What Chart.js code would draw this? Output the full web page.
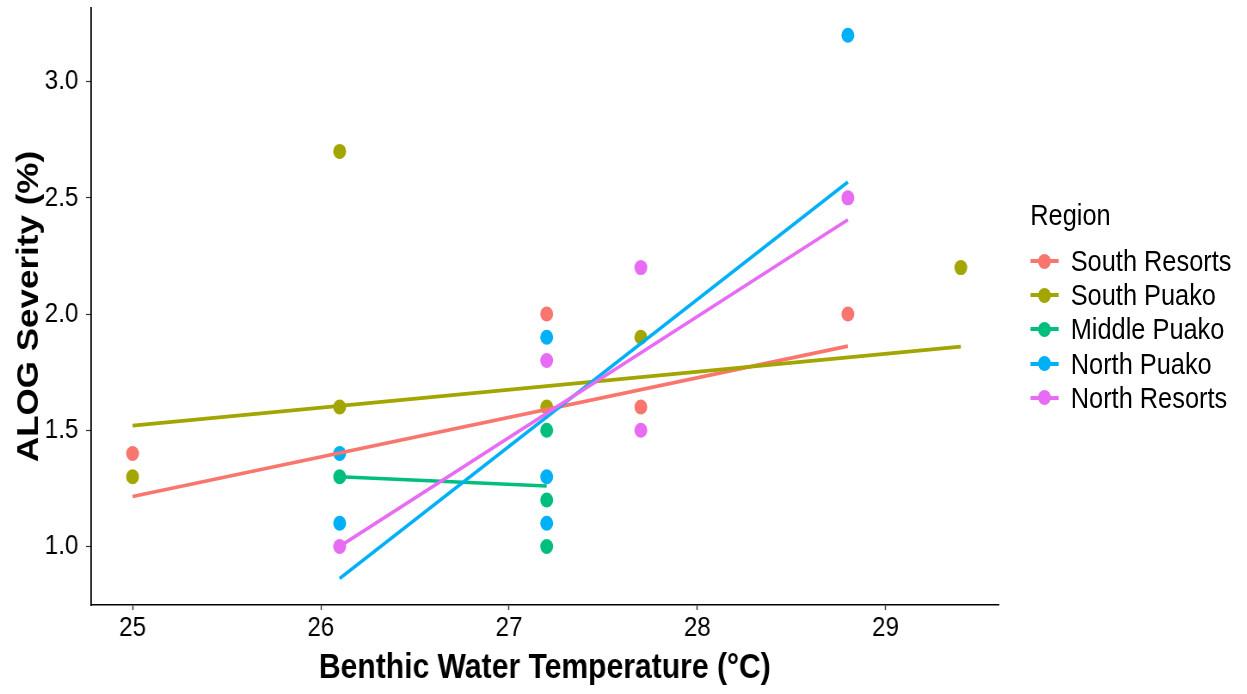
<!DOCTYPE html>
<html>
<head>
<meta charset="utf-8">
<script src="https://cdn.jsdelivr.net/npm/chart.js@4.4.1/dist/chart.umd.min.js"></script>
<style>
    html, body { margin: 0; padding: 0; background: #fff; overflow: hidden; }
    /* the original figure is squeezed sideways, so draw wide and compress */
    #wrap { position: relative; width: 1450px; height: 694px; transform: scaleX(0.86); transform-origin: 0 0; }
    #legend { position: absolute; left: 0; top: 0; font-family: "Liberation Sans", Arial, sans-serif; color: #000; }
    #legend div { position: absolute; white-space: nowrap; line-height: 34px; height: 34px; }
    .ln { position: absolute; height: 4px; }
    .pt { position: absolute; width: 15px; height: 15px; border-radius: 50%; }
</style>
</head>
<body>
<div id="wrap">
    <canvas id="chart" width="1450" height="694"></canvas>
    <div id="legend"></div>
</div>
<script>
const regions = ["South Resorts", "South Puako", "Middle Puako", "North Puako", "North Resorts"];
const colors  = ["#F8766D", "#A3A500", "#00BF7D", "#00B0F6", "#E76BF3"];

// observed points, per region
const southResortsX = [25.0, 27.2, 27.7, 28.8];
const southResortsY = [1.4, 2.0, 1.6, 2.0];
const southPuakoX   = [25.0, 26.1, 26.1, 27.2, 27.7, 29.4];
const southPuakoY   = [1.3, 2.7, 1.6, 1.6, 1.9, 2.2];
const middlePuakoX  = [26.1, 27.2, 27.2, 27.2];
const middlePuakoY  = [1.3, 1.5, 1.2, 1.0];
const northPuakoX   = [26.1, 26.1, 27.2, 27.2, 27.2, 28.8];
const northPuakoY   = [1.4, 1.1, 1.9, 1.3, 1.1, 3.2];
const northResortsX = [26.1, 27.2, 27.7, 27.7, 28.8];
const northResortsY = [1.0, 1.8, 2.2, 1.5, 2.5];

// fitted line end points
const fitX = [[25.0, 28.8], [25.0, 29.4], [26.1, 27.2], [26.1, 28.8], [26.1, 28.8]];
const fitY = [[1.215, 1.862], [1.52, 1.86], [1.30, 1.26], [0.862, 2.568], [1.0, 2.406]];

const xTicks = [25, 26, 27, 28, 29];
const yTicks = [1.0, 1.5, 2.0, 2.5, 3.0];

const pointsX = [southResortsX, southPuakoX, middlePuakoX, northPuakoX, northResortsX];
const pointsY = [southResortsY, southPuakoY, middlePuakoY, northPuakoY, northResortsY];

const zip = (xs, ys) => xs.map((x, i) => ({ x, y: ys[i] }));

const FONT = "'Liberation Sans', Arial, sans-serif";
const datasets = [];

// lines first so they are painted over the points (last region on top)
for (let i = regions.length - 1; i >= 0; i--) {
    datasets.push({
        type: "line",
        label: regions[i] + " fit",
        data: zip(fitX[i], fitY[i]),
        borderColor: colors[i],
        borderWidth: 3.6,
        pointRadius: 0,
        fill: false,
        tension: 0,
    });
}
regions.forEach((r, i) => {
    datasets.push({
        type: "scatter",
        label: r,
        data: zip(pointsX[i], pointsY[i]),
        backgroundColor: colors[i],
        borderWidth: 0,
        pointRadius: 7.5,
    });
});

new Chart(document.getElementById("chart"), {
    type: "scatter",
    data: { datasets },
    options: {
        responsive: false,
        animation: false,
        layout: { padding: { top: 8, right: 289, left: 0, bottom: 0 } },
        plugins: { legend: { display: false }, tooltip: { enabled: false } },
        scales: {
            x: {
                type: "linear",
                min: 24.78, max: 29.6,
                afterFit: s => { s.height = 89; s.paddingLeft = 0; s.paddingRight = 0; },
                afterBuildTicks: s => { s.ticks = xTicks.map(v => ({ value: v })); },
                grid: { display: true, drawOnChartArea: false, color: "#333", tickLength: 5, tickWidth: 1.4 },
                border: { display: true, color: "#000", width: 1.6 },
                ticks: { color: "#000", padding: 1, font: { family: FONT, size: 28 }, callback: v => String(v) },
                title: { display: true, text: "Benthic Water Temperature (°C)", color: "#000",
                         font: { family: FONT, size: 35, weight: "bold" }, padding: { top: 0, bottom: 5 } },
            },
            y: {
                type: "linear",
                min: 0.748, max: 3.317,
                afterFit: s => { s.width = 106; s.paddingTop = 0; s.paddingBottom = 0; },
                afterBuildTicks: s => { s.ticks = yTicks.map(v => ({ value: v })); },
                grid: { display: true, drawOnChartArea: false, color: "#333", tickLength: 6, tickWidth: 1.2 },
                border: { display: true, color: "#000", width: 1.8 },
                ticks: { color: "#000", padding: 9, font: { family: FONT, size: 28 }, callback: v => v.toFixed(1) },
                title: { display: true, text: "ALOG Severity (%)", color: "#000",
                         font: { family: FONT, size: 35, weight: "bold" }, padding: { top: 13, bottom: 0 } },
            },
        },
    },
});

// legend, in the same (unsqueezed) coordinates as the canvas
const legend = document.getElementById("legend");
const legLeft = 1198, legTitleY = 215, legFirstY = 261, legStep = 34.2;
let html = `<div style="left:${legLeft}px;top:${legTitleY - 17}px;font-size:29.5px">Region</div>`;
regions.forEach((r, i) => {
    const cy = legFirstY + i * legStep;
    html += `<span class="ln" style="left:${legLeft}px;width:33px;top:${cy - 2}px;background:${colors[i]}"></span>`;
    html += `<span class="pt" style="left:${legLeft + 9}px;top:${cy - 7.5}px;background:${colors[i]}"></span>`;
    html += `<div style="left:${legLeft + 47}px;top:${cy - 17}px;font-size:29.5px">${r}</div>`;
});
legend.innerHTML = html;
</script>
</body>
</html>
